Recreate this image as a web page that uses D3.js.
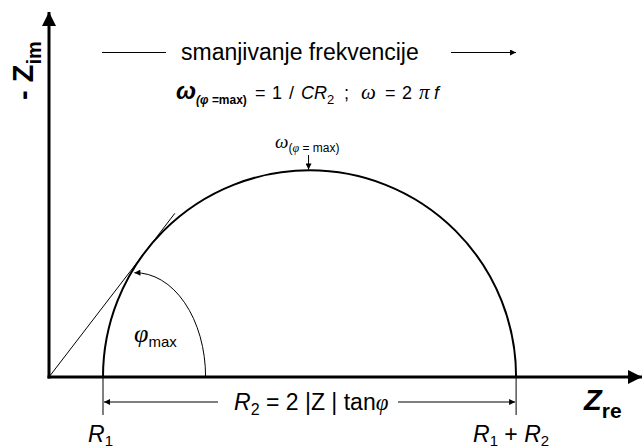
<!DOCTYPE html>
<html lang="en">
  <head>
    <meta charset="utf-8">
    <title>Nyquist - semicircle</title>
    <script src="https://d3js.org/d3.v7.min.js"></script>
    <style>
      body { margin: 0; background: #fff; }
      text { font-family: "Liberation Sans", Arial, sans-serif; fill: #000; }
      .serif { font-family: "Liberation Serif", "Times New Roman", serif; }
    </style>
  </head>
  <body>
    <svg width="642" height="448"></svg>
    <script>
      // R1 and R2 of the circuit (arbitrary units)
      var resistances = [10, 76.5];
      // axis extents
      var zreDomain = [0, 110];
      var zimDomain = [0, 67.4];
      // how far the tangent line runs past the tangent point
      var tangentReach = [1.3];
      // labels under the axis
      var footLabels = [["R", "1"], ["R", "1", " + ", "R", "2"]];

      var svg = d3.select("svg");
      var x = d3.scaleLinear().domain(zreDomain).range([49, 643]);
      var y = d3.scaleLinear().domain(zimDomain).range([377, 13]);

      var R1 = resistances[0], R2 = resistances[1];
      var cx = x(R1 + R2 / 2), cy = y(0);
      var r = x(R2 / 2) - x(0);

      // arrow heads
      var defs = svg.append("defs");
      function marker(id, w, h) {
        defs.append("marker")
          .attr("id", id)
          .attr("viewBox", "0 0 10 10")
          .attr("refX", 10).attr("refY", 5)
          .attr("markerWidth", w).attr("markerHeight", h)
          .attr("markerUnits", "userSpaceOnUse")
          .attr("orient", "auto")
          .append("path").attr("d", "M0,0 L10,5 L0,10 z").attr("fill", "#000");
      }
      marker("big", 14, 14);
      marker("small", 7, 6);

      // axes
      svg.append("line")
        .attr("x1", x(0)).attr("y1", y(0) + 1.5)
        .attr("x2", x(0)).attr("y2", y(zimDomain[1]) - 1)
        .attr("stroke", "#000").attr("stroke-width", 3)
        .attr("marker-end", "url(#big)");
      svg.append("line")
        .attr("x1", x(0) - 1.5).attr("y1", y(0))
        .attr("x2", x(zreDomain[1]) - 1).attr("y2", y(0))
        .attr("stroke", "#000").attr("stroke-width", 3)
        .attr("marker-end", "url(#big)");

      // the semicircle
      var p = d3.path();
      p.moveTo(x(R1), cy);
      p.arc(cx, cy, r, Math.PI, 2 * Math.PI);
      svg.append("path").attr("d", p.toString())
        .attr("fill", "none").attr("stroke", "#000").attr("stroke-width", 2);

      // tangent from the origin
      var d = cx - x(0);
      var phi = Math.asin(r / d);
      var tl = Math.sqrt(d * d - r * r) * tangentReach[0];
      svg.append("line")
        .attr("x1", x(0)).attr("y1", y(0))
        .attr("x2", x(0) + tl * Math.cos(phi)).attr("y2", y(0) - tl * Math.sin(phi))
        .attr("stroke", "#000").attr("stroke-width", 1);

      // angle arc phi max
      var ax0 = x(16), arx = x(13) - x(0), ary = y(0) - y(19.3);
      svg.append("path")
        .attr("d", "M" + (ax0 + arx) + "," + y(0) + " A" + arx + "," + ary + " 0 0 0 " + (ax0 - 1) + "," + (y(0) - ary))
        .attr("fill", "none").attr("stroke", "#000").attr("stroke-width", 1)
        .attr("marker-end", "url(#small)");
      var pl = svg.append("text").attr("x", 134).attr("y", 342);
      pl.append("tspan").attr("class", "serif").style("font-style", "italic").style("font-size", "26px").text("φ");
      pl.append("tspan").style("font-size", "15px").attr("dy", 5).text("max");

      // R1 and R1+R2 ticks and the dimension arrows
      [R1, R1 + R2].forEach(function (v) {
        svg.append("line")
          .attr("x1", x(v)).attr("y1", y(0))
          .attr("x2", x(v)).attr("y2", 415)
          .attr("stroke", "#000").attr("stroke-width", 1);
      });
      svg.append("line").attr("x1", 218).attr("y1", 402).attr("x2", x(R1) + 1).attr("y2", 402)
        .attr("stroke", "#000").attr("stroke-width", 1).attr("marker-end", "url(#small)");
      svg.append("line").attr("x1", 398).attr("y1", 402).attr("x2", x(R1 + R2) - 1).attr("y2", 402)
        .attr("stroke", "#000").attr("stroke-width", 1).attr("marker-end", "url(#small)");

      var dt = svg.append("text").attr("x", 234).attr("y", 410).style("font-size", "23px");
      dt.append("tspan").style("font-style", "italic").text("R");
      dt.append("tspan").style("font-size", "16px").attr("dy", 5).text("2");
      dt.append("tspan").attr("dy", -5).text(" = 2 |Z | tan");
      dt.append("tspan").attr("class", "serif").style("font-style", "italic").text("φ");

      // labels under the axis
      [[R1, 88], [R1 + R2, 473]].forEach(function (v, i) {
        var t = svg.append("text").attr("x", v[1]).attr("y", 442).style("font-size", "23px");
        footLabels[i].forEach(function (s) {
          var ts = t.append("tspan").text(s);
          if (s === "R") ts.style("font-style", "italic");
          if (s === "1" || s === "2") ts.style("font-size", "15px").attr("dy", 4);
          if (s === " + ") ts.attr("dy", -4);
        });
      });

      // axis titles
      var zr = svg.append("text").attr("x", 584).attr("y", 410)
        .style("font-weight", "bold").style("font-size", "29px");
      zr.append("tspan").style("font-style", "italic").text("Z");
      zr.append("tspan").style("font-size", "21px").attr("dy", 8).text("re");

      var zi = svg.append("text").attr("transform", "translate(33,100) rotate(-90)")
        .style("font-weight", "bold").style("font-size", "29px");
      zi.append("tspan").text("- Z");
      zi.append("tspan").style("font-size", "20px").attr("dy", 8).text("im");

      // frequency direction
      svg.append("line").attr("x1", 102).attr("y1", 52.5).attr("x2", 166).attr("y2", 52.5)
        .attr("stroke", "#000").attr("stroke-width", 1);
      svg.append("line").attr("x1", 451).attr("y1", 52.5).attr("x2", 516).attr("y2", 52.5)
        .attr("stroke", "#000").attr("stroke-width", 1).attr("marker-end", "url(#small)");
      svg.append("text").attr("x", 181).attr("y", 60).style("font-size", "23px").text("smanjivanje frekvencije");

      // formula
      var f = svg.append("text").attr("y", 99).style("font-size", "18px");
      f.append("tspan").attr("x", 176).style("font-weight", "bold").style("font-style", "italic").style("font-size", "24px").text("ω");
      f.append("tspan").style("font-weight", "bold").style("font-style", "italic").style("font-size", "12px").attr("dy", 5).text("(φ =");
      f.append("tspan").style("font-weight", "bold").style("font-size", "12px").text("max)");
      f.append("tspan").attr("x", 255).attr("dy", -5).text("=");
      f.append("tspan").attr("x", 272).text("1");
      f.append("tspan").attr("x", 289).text("/");
      f.append("tspan").attr("x", 301).style("font-style", "italic").text("CR");
      f.append("tspan").style("font-size", "13px").attr("dy", 5).text("2");
      f.append("tspan").attr("x", 344).attr("dy", -5).text(";");
      f.append("tspan").attr("x", 361).attr("class", "serif").style("font-style", "italic").style("font-size", "21px").text("ω");
      f.append("tspan").attr("x", 385).text("=");
      f.append("tspan").attr("x", 402).text("2");
      f.append("tspan").attr("x", 419).attr("class", "serif").style("font-style", "italic").style("font-size", "21px").text("π");
      f.append("tspan").attr("x", 434).style("font-style", "italic").text("f");

      // top of the semicircle
      var apex = svg.append("text").attr("x", 275).attr("y", 148);
      apex.append("tspan").attr("class", "serif").style("font-style", "italic").style("font-size", "19px").text("ω");
      apex.append("tspan").style("font-size", "12px").attr("dy", 4).text("(");
      apex.append("tspan").attr("class", "serif").style("font-style", "italic").style("font-size", "12px").text("φ");
      apex.append("tspan").style("font-size", "12px").text(" = max)");
      svg.append("line").attr("x1", cx - 1).attr("y1", 155).attr("x2", cx - 1).attr("y2", cy - r - 1)
        .attr("stroke", "#000").attr("stroke-width", 1).attr("marker-end", "url(#small)");
    </script>
  </body>
</html>
